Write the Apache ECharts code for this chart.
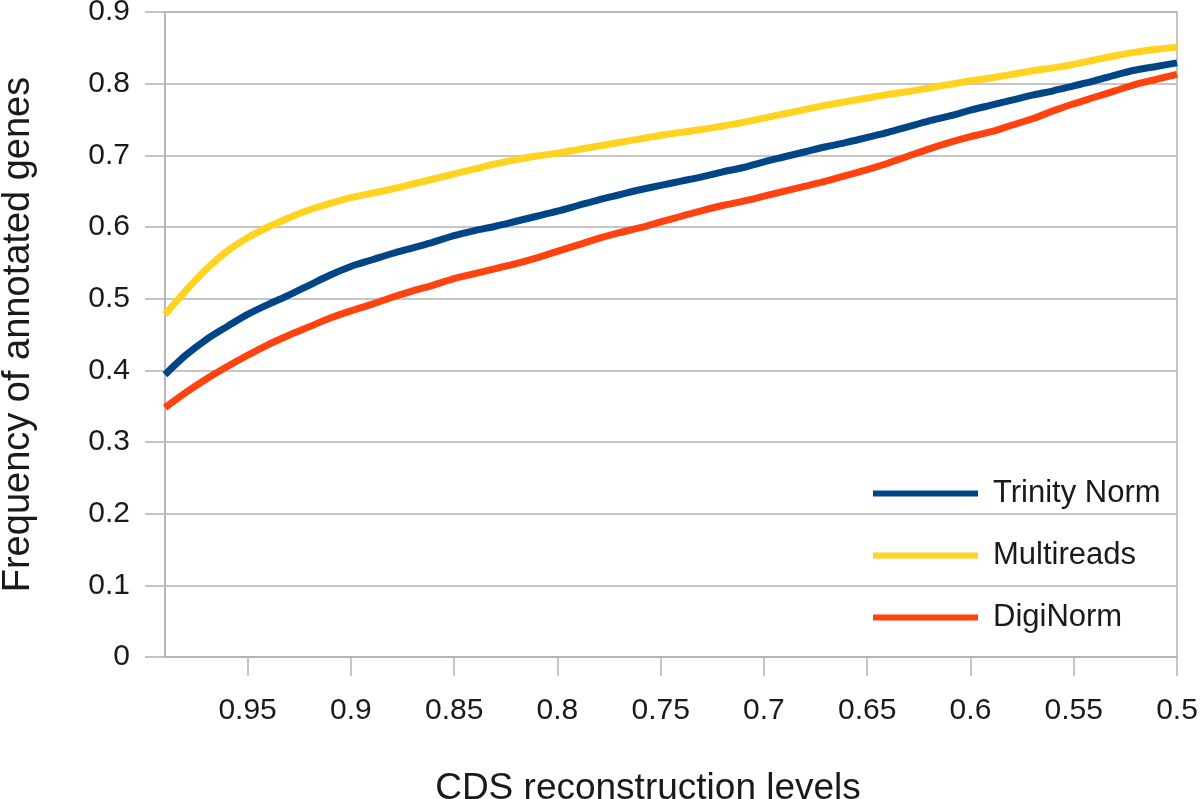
<!DOCTYPE html>
<html>
<head>
<meta charset="utf-8">
<script src="https://cdn.jsdelivr.net/npm/echarts@6/dist/echarts.min.js"></script>
<style>
html,body{margin:0;padding:0;background:#fff;}
#chart{width:1200px;height:799px;}
</style>
</head>
<body>
<div id="chart"></div>
<script>
const categories = ['0.99','0.98','0.97','0.96','0.95','0.94','0.93','0.92','0.91','0.9',
  '0.89','0.88','0.87','0.86','0.85','0.84','0.83','0.82','0.81','0.8',
  '0.79','0.78','0.77','0.76','0.75','0.74','0.73','0.72','0.71','0.7',
  '0.69','0.68','0.67','0.66','0.65','0.64','0.63','0.62','0.61','0.6',
  '0.59','0.58','0.57','0.56','0.55','0.54','0.53','0.52','0.51','0.5'];

const trinityNorm = [0.394,0.421,0.443,0.461,0.478,0.492,0.505,0.519,0.533,0.545,
  0.554,0.563,0.571,0.579,0.588,0.595,0.601,0.608,0.615,0.622,
  0.630,0.638,0.645,0.652,0.658,0.664,0.670,0.677,0.683,0.691,
  0.698,0.705,0.712,0.718,0.725,0.732,0.740,0.748,0.755,0.763,
  0.770,0.777,0.784,0.790,0.797,0.804,0.812,0.819,0.824,0.829];

const multireads = [0.478,0.511,0.541,0.566,0.585,0.600,0.613,0.624,0.633,0.641,
  0.647,0.653,0.660,0.667,0.674,0.681,0.688,0.694,0.699,0.703,
  0.708,0.713,0.718,0.723,0.728,0.732,0.736,0.741,0.746,0.752,
  0.758,0.764,0.770,0.775,0.780,0.785,0.789,0.794,0.799,0.804,
  0.808,0.813,0.818,0.822,0.827,0.833,0.839,0.844,0.848,0.851];

const digiNorm = [0.348,0.369,0.388,0.405,0.421,0.436,0.449,0.461,0.473,0.483,
  0.492,0.502,0.511,0.519,0.528,0.535,0.542,0.549,0.557,0.566,
  0.575,0.584,0.592,0.599,0.607,0.615,0.623,0.630,0.636,0.643,
  0.650,0.657,0.664,0.672,0.680,0.689,0.699,0.709,0.718,0.726,
  0.733,0.742,0.751,0.762,0.772,0.781,0.790,0.799,0.806,0.813];

const yTicks = {min: 0, max: 0.9, interval: 0.1};

const FONT = 'Liberation Sans';
const TXT = '#1a1a1a';
const GRID = '#b3b3b3';

const chart = echarts.init(document.getElementById('chart'), null, {renderer: 'canvas'});
const showEvery5 = (idx) => (idx + 1) % 5 === 0;

chart.setOption({
  animation: false,
  backgroundColor: '#ffffff',
  grid: {left: 165, right: 23, top: 12, bottom: 142, containLabel: false, outerBoundsMode: 'none',
    show: true, borderColor: GRID, borderWidth: 1.5, backgroundColor: 'transparent'},
  xAxis: {
    type: 'category',
    data: categories,
    boundaryGap: false,
    name: 'CDS reconstruction levels',
    nameLocation: 'middle',
    nameGap: 113,
    nameTextStyle: {fontFamily: FONT, fontSize: 37, color: TXT, padding: [0, 46, 0, 0]},
    axisLine: {lineStyle: {color: GRID, width: 1.5}},
    axisTick: {show: true, length: 19, interval: showEvery5, lineStyle: {color: GRID, width: 1.5}},
    axisLabel: {interval: showEvery5, fontFamily: FONT, fontSize: 30, color: TXT, margin: 39},
    splitLine: {show: false}
  },
  yAxis: {
    type: 'value',
    min: yTicks.min, max: yTicks.max, interval: yTicks.interval,
    name: 'Frequency of annotated genes',
    nameLocation: 'middle',
    nameGap: 127,
    nameTextStyle: {fontFamily: FONT, fontSize: 38, color: TXT},
    axisLine: {show: true, lineStyle: {color: GRID, width: 1.5}},
    axisTick: {show: true, length: 20, lineStyle: {color: GRID, width: 1.5}},
    axisLabel: {fontFamily: FONT, fontSize: 30, color: TXT, margin: 35,
      formatter: (v) => (Math.round(v * 10) / 10).toString()},
    splitLine: {show: true, lineStyle: {color: GRID, width: 1.5}}
  },
  legend: {
    orient: 'vertical',
    left: 868,
    top: 473,
    icon: 'rect',
    itemWidth: 105,
    itemHeight: 6,
    itemGap: 31,
    textStyle: {fontFamily: FONT, fontSize: 31, color: TXT, lineHeight: 30, padding: [0, 0, 0, 10]},
    data: ['Trinity Norm', 'Multireads', 'DigiNorm']
  },
  series: [
    {name: 'DigiNorm', type: 'line', data: digiNorm, showSymbol: false, smooth: 0.3,
      lineStyle: {color: '#ff420e', width: 7}, itemStyle: {color: '#ff420e'}},
    {name: 'Trinity Norm', type: 'line', data: trinityNorm, showSymbol: false, smooth: 0.3,
      lineStyle: {color: '#004586', width: 7}, itemStyle: {color: '#004586'}},
    {name: 'Multireads', type: 'line', data: multireads, showSymbol: false, smooth: 0.3,
      lineStyle: {color: '#ffd320', width: 7}, itemStyle: {color: '#ffd320'}}
  ]
});
</script>
</body>
</html>
